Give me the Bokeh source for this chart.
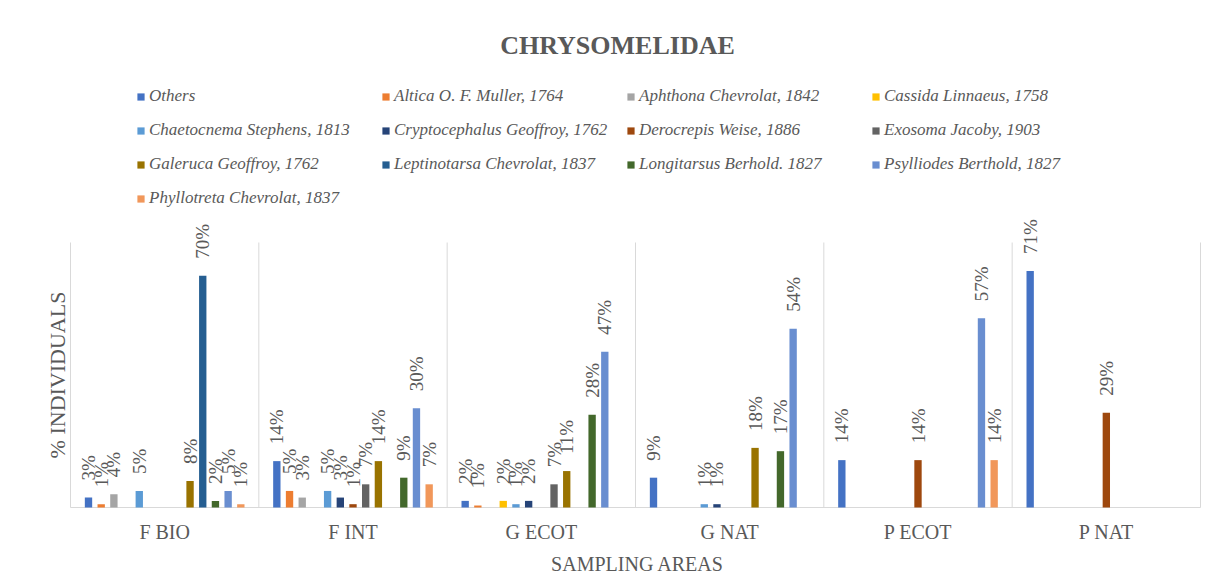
import numpy as np
from bokeh.plotting import figure
from bokeh.models import (ColumnDataSource, Legend, LegendItem, Label, Range1d)
from bokeh.core.properties import value
from bokeh.embed import file_html
from bokeh.resources import INLINE

areas = ["F BIO", "F INT", "G ECOT", "G NAT", "P ECOT", "P NAT"]
genera = ["Others", "Altica O. F. Muller, 1764", "Aphthona Chevrolat, 1842", "Cassida Linnaeus, 1758",
          "Chaetocnema Stephens, 1813", "Cryptocephalus Geoffroy, 1762", "Derocrepis Weise, 1886",
          "Exosoma Jacoby, 1903", "Galeruca Geoffroy, 1762", "Leptinotarsa Chevrolat, 1837",
          "Longitarsus Berhold. 1827", "Psylliodes Berthold, 1827", "Phyllotreta Chevrolat, 1837"]
colors = ["#4472C4", "#ED7D31", "#A5A5A5", "#FFC000", "#5B9BD5", "#264478", "#9E480E",
          "#636363", "#997300", "#255E91", "#43682B", "#698ED0", "#F1975A"]

others = [3, 14, 2, 9, 14.3, 71.4]
altica = [1, 5, 0.6, 0, 0, 0]
aphthona = [4, 3, 0, 0, 0, 0]
cassida = [0, 0, 2, 0, 0, 0]
chaetocnema = [5, 5, 1, 1, 0, 0]
cryptocephalus = [0, 3, 2, 1, 0, 0]
derocrepis = [0, 1, 0, 0, 14.3, 28.6]
exosoma = [0, 7, 7, 0, 0, 0]
galeruca = [8, 14, 11, 18, 0, 0]
leptinotarsa = [70, 0, 0, 0, 0, 0]
longitarsus = [2, 9, 28, 17, 0, 0]
psylliodes = [5, 30, 47, 54, 57.1, 0]
phyllotreta = [1, 7, 0, 0, 14.3, 0]

series = [others, altica, aphthona, cassida, chaetocnema, cryptocephalus, derocrepis,
          exosoma, galeruca, leptinotarsa, longitarsus, psylliodes, phyllotreta]

axis_max = 80

GREY = "#595959"
SERIF = "Liberation Serif"

# layout: plot area spans 70px..1200px horizontally and 242px..507px vertically
W, H = 1210, 580
px_per_cat = 1130 / len(areas)
px_per_pct = 265 / axis_max
x_start = -70 / px_per_cat
x_end = len(areas) + (W - 1200) / px_per_cat
y_start = -(H - 507) / px_per_pct
y_end = 507 / px_per_pct

p = figure(width=W, height=H, output_backend="svg", toolbar_location=None,
           x_range=Range1d(x_start, x_end), y_range=Range1d(y_start, y_end),
           min_border_left=0, min_border_right=0, min_border_top=0, min_border_bottom=0)
p.outline_line_color = None
p.background_fill_color = "white"
p.xaxis.visible = False
p.yaxis.visible = False
p.xgrid.visible = False
p.ygrid.visible = False

n = len(series)
slot = 0.0674
bw = 0.039
centers = np.arange(len(areas)) + 0.5

# separators between sampling areas (category boundaries)
bounds = np.arange(len(areas) + 1)
p.segment(x0=bounds, y0=np.zeros(len(bounds)), x1=bounds, y1=np.full(len(bounds), axis_max),
          line_color="#D9D9D9", line_width=1)
# category axis line
p.segment(x0=[0], y0=[0], x1=[len(areas)], y1=[0], line_color="#D9D9D9", line_width=1)

items = []
lx, ly, lt = [], [], []
for j, (vals, name, col) in enumerate(zip(series, genera, colors)):
    xs = centers + (j - (n - 1) / 2) * slot
    src = ColumnDataSource(dict(x=xs, top=vals))
    r = p.vbar(x="x", top="top", width=bw, source=src, fill_color=col, line_color=None)
    items.append(LegendItem(label=name, renderers=[r]))
    for xv, v in zip(xs, vals):
        if v > 0:
            lx.append(xv)
            ly.append(v)
            lt.append(f"{int(round(v))}%")

lsrc = ColumnDataSource(dict(x=lx, y=ly, t=lt))
p.text(x="x", y="y", text="t", source=lsrc, angle=np.pi / 2, text_align="left",
       text_baseline="middle", y_offset=-17, text_font=value(SERIF),
       text_font_size="19px", text_color=GREY)

# category tick labels
csrc = ColumnDataSource(dict(x=centers, y=np.zeros(len(areas)), t=areas))
p.text(x="x", y="y", text="t", source=csrc, y_offset=24, text_align="center",
       text_baseline="middle", text_font=value(SERIF), text_font_size="20px", text_color=GREY)

xlabel = Label(x=637, y=H - 563, x_units="screen", y_units="screen", text="SAMPLING AREAS",
               text_align="center", text_baseline="middle",
               text_font=SERIF, text_font_size="20px", text_color=GREY)
p.add_layout(xlabel)

ylabel = Label(x=57, y=H - 374.5, x_units="screen", y_units="screen", text="% INDIVIDUALS",
               angle=np.pi / 2, text_align="center", text_baseline="middle",
               text_font=SERIF, text_font_size="22px", text_color=GREY)
p.add_layout(ylabel)

legend = Legend(items=items, location=(136, H - 208), orientation="horizontal", ncols=4,
                glyph_width=9, glyph_height=9, label_height=20, label_width=218,
                label_standoff=4, spacing=14, padding=0, margin=0,
                border_line_color=None, background_fill_alpha=0,
                label_text_font=SERIF, label_text_font_style="italic",
                label_text_font_size="17px", label_text_color=GREY)
p.add_layout(legend, "center")

title = Label(x=617, y=H - 45, x_units="screen", y_units="screen", text="CHRYSOMELIDAE",
              text_align="center", text_baseline="middle", text_font=SERIF,
              text_font_size="26px", text_font_style="bold", text_color=GREY)
p.add_layout(title)

open("out.html", "w").write(file_html(p, INLINE))
